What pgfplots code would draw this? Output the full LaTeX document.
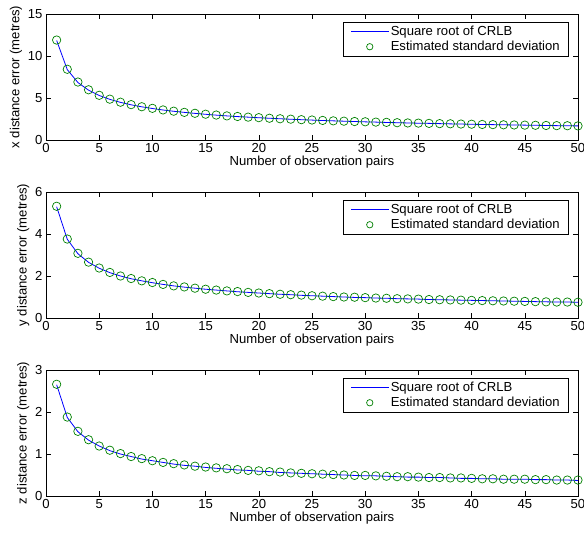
\documentclass[border=0pt]{standalone}
\usepackage{fontspec}
\setmainfont{Liberation Sans}
\usepackage{pgfplots}
\usepackage{pgfplotstable}
\pgfplotsset{compat=1.18}
\definecolor{mBlue}{rgb}{0,0,1}
\definecolor{mGreen}{rgb}{0,0.5,0}

% n, sqrt(CRLB) and estimated std for x, y, z
\pgfplotstableread{
n  cx    ex    cy   ey   cz   ez
1  11.85 11.90 5.30 5.32 2.65 2.66
2  8.38  8.42  3.75 3.76 1.87 1.88
3  6.84  6.90  3.06 3.08 1.53 1.54
4  5.93  5.98  2.65 2.66 1.33 1.34
5  5.30  5.32  2.37 2.38 1.19 1.19
6  4.84  4.86  2.16 2.17 1.08 1.09
7  4.48  4.50  2.00 2.00 1.00 1.01
8  4.19  4.21  1.87 1.88 0.94 0.94
9  3.95  3.96  1.77 1.77 0.88 0.89
10 3.75  3.77  1.68 1.69 0.84 0.84
11 3.57  3.58  1.60 1.60 0.80 0.80
12 3.42  3.43  1.53 1.53 0.76 0.77
13 3.29  3.29  1.47 1.48 0.73 0.74
14 3.17  3.18  1.42 1.42 0.71 0.71
15 3.06  3.07  1.37 1.37 0.68 0.69
16 2.96  2.97  1.33 1.33 0.66 0.67
17 2.87  2.87  1.29 1.29 0.64 0.65
18 2.79  2.80  1.25 1.26 0.62 0.63
19 2.72  2.72  1.22 1.22 0.61 0.61
20 2.65  2.66  1.19 1.19 0.59 0.60
21 2.59  2.59  1.16 1.16 0.58 0.58
22 2.53  2.53  1.13 1.13 0.56 0.57
23 2.47  2.48  1.11 1.11 0.55 0.55
24 2.42  2.42  1.08 1.09 0.54 0.54
25 2.37  2.38  1.06 1.06 0.53 0.53
26 2.32  2.33  1.04 1.04 0.52 0.52
27 2.28  2.28  1.02 1.02 0.51 0.51
28 2.24  2.24  1.00 1.00 0.50 0.50
29 2.20  2.20  0.98 0.99 0.49 0.49
30 2.16  2.17  0.97 0.97 0.48 0.49
31 2.13  2.13  0.95 0.95 0.48 0.48
32 2.09  2.10  0.94 0.94 0.47 0.47
33 2.06  2.06  0.92 0.92 0.46 0.46
34 2.03  2.03  0.91 0.91 0.45 0.46
35 2.00  2.01  0.90 0.90 0.45 0.45
36 1.98  1.98  0.88 0.88 0.44 0.44
37 1.95  1.95  0.87 0.87 0.44 0.44
38 1.92  1.93  0.86 0.86 0.43 0.43
39 1.90  1.90  0.85 0.85 0.42 0.43
40 1.87  1.88  0.84 0.84 0.42 0.42
41 1.85  1.85  0.83 0.83 0.41 0.41
42 1.83  1.83  0.82 0.82 0.41 0.41
43 1.81  1.81  0.81 0.81 0.40 0.40
44 1.79  1.79  0.80 0.80 0.40 0.40
45 1.77  1.77  0.79 0.79 0.40 0.40
46 1.75  1.75  0.78 0.78 0.39 0.39
47 1.73  1.73  0.77 0.77 0.39 0.39
48 1.71  1.71  0.76 0.76 0.38 0.38
49 1.69  1.70  0.76 0.76 0.38 0.38
50 1.68  1.68  0.75 0.75 0.37 0.38
}\errtable

\pgfplotsset{
  errstyle/.style={
    scale only axis,
    width=532bp, height=126bp,
    xmin=0, xmax=50,
    xtick={0,5,...,50},
    tick align=inside,
    major tick length=5bp,
    axis line style={line width=0.9pt},
    tick style={line width=0.6pt, black},
    font=\fontsize{13.1bp}{15bp}\selectfont,
    /pgf/number format/assume math mode=true,
    xlabel={Number of observation pairs},
    xlabel style={yshift=4bp},
    ylabel style={yshift=-1bp},
    legend style={at={(1,1)}, anchor=north east, xshift=-9bp, yshift=-8bp,
      draw=black, line width=0.6pt, font=\fontsize{13.1bp}{15bp}\selectfont,
      inner xsep=7bp, inner ysep=2bp, row sep=0bp},
    legend cell align=left,
  },
  crlb/.style={color=mBlue, line width=0.8pt, no marks,
    legend image code/.code={\fill[fill=mBlue, draw=none] (0bp,-0.5bp) rectangle (38bp,0.5bp);}},
  est/.style={only marks, mark=o, mark size=4.2bp, color=mGreen, mark options={line width=0.7pt},
    legend image code/.code={\draw[draw=mGreen, line width=0.7pt] (19bp,0bp) circle (3.2bp);}},
}

\begin{document}
\begin{tikzpicture}
\begin{axis}[errstyle, at={(0,0)}, anchor=south west,
  ymin=0, ymax=15, ytick={0,5,10,15},
  ylabel={x distance error (metres)}]
\addplot[crlb] table[x=n, y=cx] {\errtable};
\addlegendentry{Square root of CRLB}
\addplot[est] table[x=n, y=ex] {\errtable};
\addlegendentry{Estimated standard deviation}
\end{axis}

\begin{axis}[errstyle, at={(0,-178bp)}, anchor=south west,
  ymin=0, ymax=6, ytick={0,2,4,6},
  ylabel={y distance error (metres)}]
\addplot[crlb] table[x=n, y=cy] {\errtable};
\addlegendentry{Square root of CRLB}
\addplot[est] table[x=n, y=ey] {\errtable};
\addlegendentry{Estimated standard deviation}
\end{axis}

\begin{axis}[errstyle, at={(0,-356bp)}, anchor=south west,
  ymin=0, ymax=3, ytick={0,1,2,3},
  ylabel={z distance error (metres)}]
\addplot[crlb] table[x=n, y=cz] {\errtable};
\addlegendentry{Square root of CRLB}
\addplot[est] table[x=n, y=ez] {\errtable};
\addlegendentry{Estimated standard deviation}
\end{axis}

\pgfresetboundingbox
\path[use as bounding box] (-46bp,-394bp) rectangle (538bp,140bp);
\end{tikzpicture}
\end{document}
